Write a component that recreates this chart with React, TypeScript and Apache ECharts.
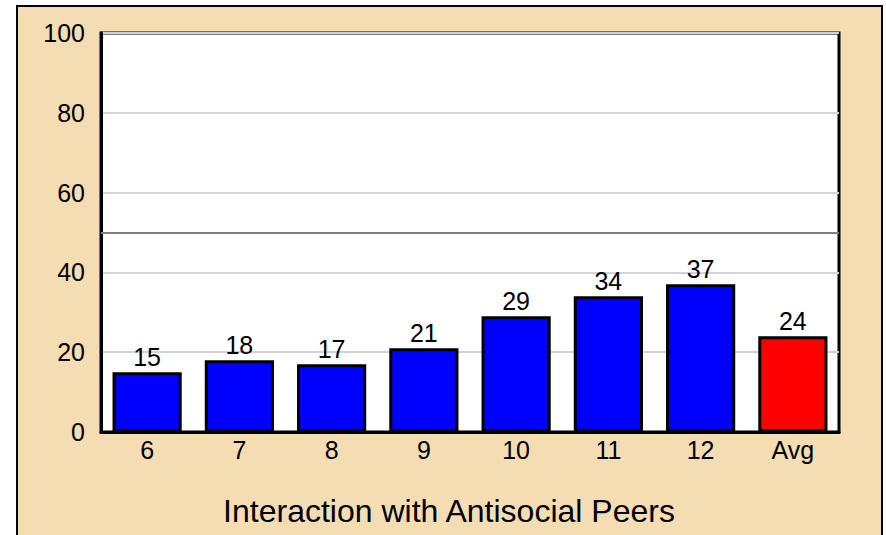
import React, { useEffect, useRef } from "react";
import * as echarts from "echarts";

const categories = ["6", "7", "8", "9", "10", "11", "12", "Avg"];
const values = [15, 18, 17, 21, 29, 34, 37, 24];
const barColors = ["#0000FF", "#0000FF", "#0000FF", "#0000FF", "#0000FF", "#0000FF", "#0000FF", "#FF0000"];
const referenceLine = 50;
const yTicks = { min: 0, max: 100, interval: 20 };
const title = "Interaction with Antisocial Peers";

export default function App() {
  const ref = useRef<HTMLDivElement>(null);
  useEffect(() => {
    const chart = echarts.init(ref.current!, null, { renderer: "svg" });
    const font = "Liberation Sans, Arial, sans-serif";
    chart.setOption({
      animation: false,
      backgroundColor: "transparent",
      graphic: [
        {
          type: "rect",
          z: -10,
          shape: { x: 17, y: 6, width: 865, height: 540 },
          style: { fill: "#F4DDB3", stroke: "#000", lineWidth: 2 },
        },
        {
          type: "text",
          x: 449,
          y: 511,
          style: {
            text: title,
            fontSize: 32,
            fontFamily: font,
            fill: "#000",
            align: "center",
            verticalAlign: "middle",
          },
        },
      ],
      grid: {
        left: 101,
        top: 33,
        width: 738,
        height: 399,
        show: true,
        backgroundColor: "#fff",
        borderColor: "#000",
        borderWidth: 3,
      },
      xAxis: {
        type: "category",
        data: categories,
        axisLine: { lineStyle: { color: "#000", width: 3 } },
        axisTick: { show: false },
        axisLabel: { color: "#000", fontSize: 25, fontFamily: font, margin: 5 },
      },
      yAxis: {
        type: "value",
        min: yTicks.min,
        max: yTicks.max,
        interval: yTicks.interval,
        axisLine: { show: true, lineStyle: { color: "#000", width: 3 } },
        axisTick: { show: false },
        axisLabel: { color: "#000", fontSize: 25, fontFamily: font, margin: 16 },
        splitLine: { lineStyle: { color: "#D3D3D3", width: 2 } },
      },
      series: [
        {
          type: "bar",
          data: values.map((v, i) => ({ value: v, itemStyle: { color: barColors[i] } })),
          barCategoryGap: "25%",
          itemStyle: { borderColor: "#000", borderWidth: 3 },
          label: {
            show: true,
            position: "top",
            distance: 3,
            color: "#000",
            fontSize: 25,
            fontFamily: font,
          },
          markLine: {
            silent: true,
            symbol: "none",
            label: { show: false },
            lineStyle: { color: "#7F7F7F", width: 2, type: "solid" },
            data: [{ yAxis: referenceLine }],
          },
        },
      ],
    });
    return () => chart.dispose();
  }, []);
  return (
    <div
      ref={ref}
      style={{ position: "absolute", left: 0, top: 0, width: 886, height: 535 }}
    />
  );
}
